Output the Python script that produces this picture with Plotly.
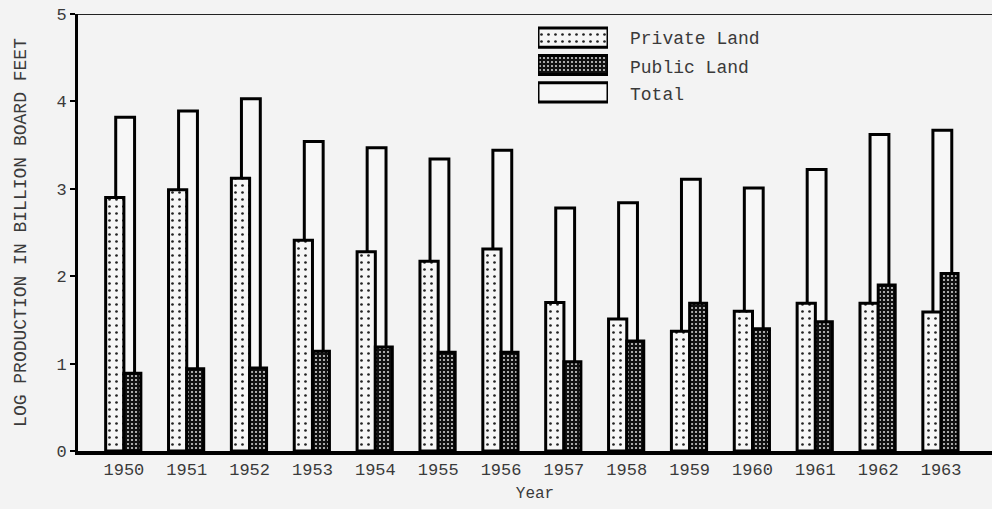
import plotly.graph_objects as go

# Log production by land ownership, billion board feet
years = [1950, 1951, 1952, 1953, 1954, 1955, 1956,
         1957, 1958, 1959, 1960, 1961, 1962, 1963]
private_land = [2.90, 2.99, 3.12, 2.41, 2.28, 2.17, 2.31,
                1.70, 1.51, 1.37, 1.60, 1.69, 1.69, 1.59]
public_land = [0.89, 0.94, 0.95, 1.14, 1.19, 1.13, 1.13,
               1.02, 1.26, 1.69, 1.40, 1.48, 1.90, 2.03]
total = [3.82, 3.89, 4.03, 3.54, 3.47, 3.34, 3.44,
         2.78, 2.84, 3.11, 3.01, 3.22, 3.62, 3.67]

series_names = ["Private Land", "Public Land", "Total"]
y_ticks = [0, 1, 2, 3, 4, 5]

INK = "black"
PAPER = "#f3f3f3"
TEXT = "#3a3a3a"
FONT = "Liberation Mono, Courier New, monospace"

private_pattern = dict(shape=".", bgcolor="#f6f6f6", fgcolor="#222222",
                       size=7, solidity=0.12, fillmode="replace")
public_pattern = dict(shape=".", bgcolor="#111111", fgcolor="#cfcfcf",
                      size=4, solidity=0.22, fillmode="replace")

fig = go.Figure()

# Total bar sits behind, the two ownership bars overlap it on either side
fig.add_trace(go.Bar(
    x=years, y=total, name=series_names[2],
    width=0.30, offset=-0.13,
    marker=dict(color="#f7f7f7", line=dict(color=INK, width=3)),
))
fig.add_trace(go.Bar(
    x=years, y=private_land, name=series_names[0],
    width=0.29, offset=-0.29,
    marker=dict(color="#f6f6f6", pattern=private_pattern,
                line=dict(color=INK, width=3)),
))
fig.add_trace(go.Bar(
    x=years, y=public_land, name=series_names[1],
    width=0.27, offset=0.0,
    marker=dict(color="#111111", pattern=public_pattern,
                line=dict(color=INK, width=3)),
))

# Plot-area geometry in pixels, used to place the key
fig_w, fig_h = 992, 509
plot_left, plot_right = 78, 992
plot_top, plot_bottom = 14, 451
plot_w = plot_right - plot_left
plot_h = plot_bottom - plot_top


def paper_x(px):
    return (px - plot_left) / plot_w


def paper_y(px):
    return (plot_bottom - px) / plot_h


# Key swatches drawn as bars on a small helper axis
key_rows = [0, 1, 2]
key_styles = [
    dict(color="#f6f6f6", pattern=private_pattern),
    dict(color="#111111", pattern=public_pattern),
    dict(color="#f7f7f7"),
]
for row, style in zip(key_rows, key_styles):
    fig.add_trace(go.Bar(
        x=[1], y=[row], base=[0], orientation="h", width=0.7,
        marker=dict(line=dict(color=INK, width=3), **style),
        xaxis="x2", yaxis="y2", showlegend=False, hoverinfo="skip",
    ))

key_label_y = [39, 68, 95]
for name, py in zip(series_names, key_label_y):
    fig.add_annotation(
        text=name, xref="paper", yref="paper",
        x=paper_x(628), y=paper_y(py), xanchor="left", yanchor="middle",
        showarrow=False, font=dict(family=FONT, size=18, color=TEXT),
    )

# Frame line across the top at the 5 mark
fig.add_shape(type="line", xref="paper", yref="y", x0=0, x1=1, y0=5, y1=5,
              line=dict(color="#222222", width=2))

fig.update_layout(
    width=fig_w, height=fig_h,
    margin=dict(l=plot_left, r=fig_w - plot_right, t=plot_top,
                b=fig_h - plot_bottom),
    paper_bgcolor=PAPER, plot_bgcolor=PAPER,
    barmode="overlay", showlegend=False,
    font=dict(family=FONT, color=TEXT, size=16),
    xaxis=dict(
        range=[1949.27, 1963.81], tickmode="array", tickvals=years,
        ticktext=[str(y) for y in years], showgrid=False, zeroline=False,
        showline=True, linecolor=INK, linewidth=4, ticks="",
        tickfont=dict(family=FONT, size=17, color=TEXT),
        title=dict(text="Year", font=dict(family=FONT, size=16, color=TEXT),
                   standoff=8),
    ),
    yaxis=dict(
        range=[0, 5], tickmode="array", tickvals=y_ticks,
        ticktext=[str(v) for v in y_ticks], showgrid=False, zeroline=False,
        showline=True, linecolor=INK, linewidth=3, ticks="outside",
        ticklen=5, tickwidth=2, tickcolor=INK,
        tickfont=dict(family=FONT, size=17, color=TEXT),
        title=dict(text="LOG PRODUCTION IN BILLION BOARD FEET",
                   font=dict(family=FONT, size=18, color=TEXT), standoff=26),
    ),
    xaxis2=dict(domain=[paper_x(538), paper_x(608)], range=[0, 1],
                visible=False, fixedrange=True),
    yaxis2=dict(domain=[paper_y(106), paper_y(24)], range=[2.5, -0.5],
                visible=False, fixedrange=True),
)

fig.write_html("out.html")
